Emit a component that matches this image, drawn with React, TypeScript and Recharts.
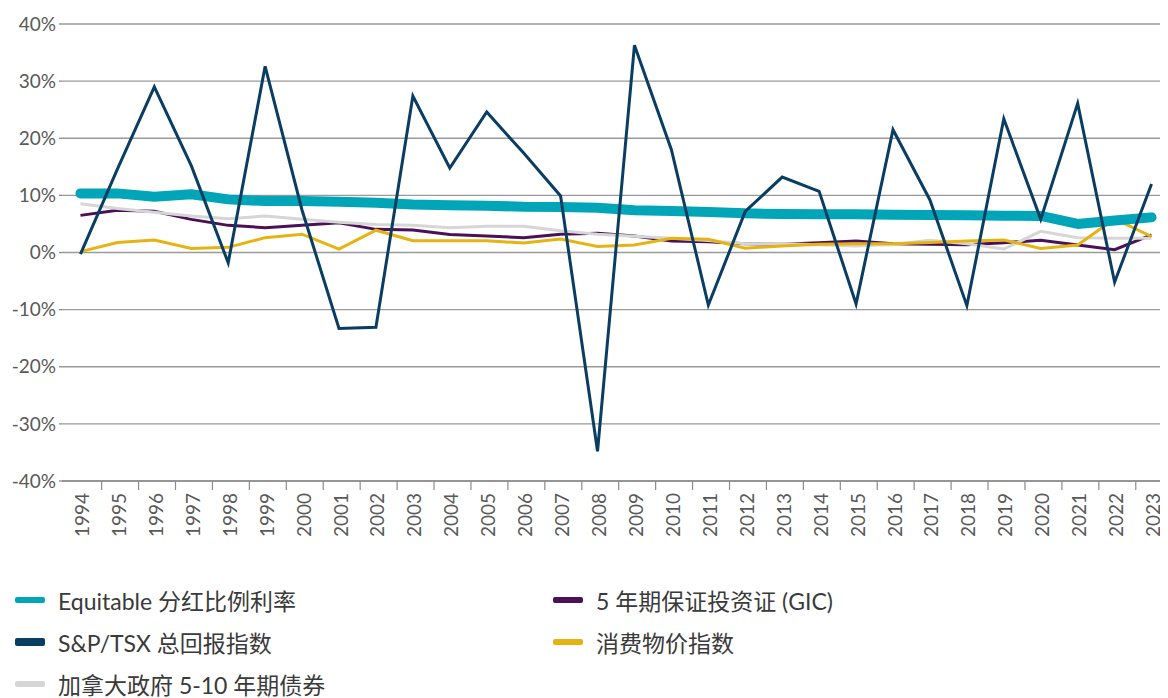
import { LineChart, Line, XAxis, YAxis, CartesianGrid } from 'recharts';

const years = [
  '1994', '1995', '1996', '1997', '1998', '1999', '2000', '2001', '2002', '2003',
  '2004', '2005', '2006', '2007', '2008', '2009', '2010', '2011', '2012', '2013',
  '2014', '2015', '2016', '2017', '2018', '2019', '2020', '2021', '2022', '2023',
];

const equitable = [
  10.35, 10.35, 9.75, 10.2, 9.3, 9.0, 9.0, 8.9, 8.7, 8.4,
  8.25, 8.2, 8.0, 7.95, 7.85, 7.4, 7.25, 7.1, 6.85, 6.75,
  6.7, 6.7, 6.6, 6.55, 6.5, 6.45, 6.4, 5.0, 5.6, 6.15,
];

const tsx = [
  -0.3, 14.6, 29.0, 15.2, -1.8, 32.6, 7.4, -13.3, -13.1, 27.4,
  14.8, 24.6, 17.4, 9.9, -34.8, 36.3, 18.0, -9.2, 7.2, 13.2,
  10.7, -9.0, 21.5, 9.2, -9.3, 23.4, 5.8, 26.1, -5.2, 12.0,
];

const gic = [
  6.5, 7.4, 7.2, 5.8, 4.75, 4.35, 4.75, 5.2, 4.05, 3.95,
  3.15, 2.9, 2.6, 3.2, 3.35, 2.9, 2.0, 1.9, 1.55, 1.45,
  1.7, 2.0, 1.55, 1.45, 1.35, 1.7, 2.15, 1.3, 0.5, 3.1,
];

const cpi = [
  0.15, 1.75, 2.2, 0.7, 0.9, 2.6, 3.2, 0.6, 3.9, 2.05,
  2.05, 2.05, 1.65, 2.35, 1.05, 1.3, 2.5, 2.3, 0.75, 1.15,
  1.45, 1.55, 1.55, 1.75, 2.0, 2.2, 0.7, 1.3, 5.9, 2.8,
];

const bonds = [
  8.55, 7.7, 7.05, 6.4, 5.9, 6.4, 5.8, 5.3, 4.9, 4.75,
  4.35, 4.6, 4.6, 3.8, 3.2, 2.85, 2.5, 2.1, 1.55, 1.55,
  1.35, 1.15, 1.4, 2.15, 1.55, 0.6, 3.7, 2.6, 2.5, 2.5,
];

const yTicks = [-40, -30, -20, -10, 0, 10, 20, 30, 40];

const data = years.map((year, i) => ({
  year,
  equitable: equitable[i],
  tsx: tsx[i],
  gic: gic[i],
  cpi: cpi[i],
  bonds: bonds[i],
}));

const FONT = "Lato, 'Noto Sans CJK SC', sans-serif";

const CHART_W = 1175;
const CHART_H = 690;
const MARGIN = { top: 16, right: 13, left: 0, bottom: 147 };
const Y_W = 54;
const BAND = (CHART_W - MARGIN.left - MARGIN.right - Y_W) / years.length;
const TICK_SHIFT = 2.7; // the year ticks sit a little right of the band edges

// legend entries, laid out in two columns
const legendItems = [
  { label: 'Equitable 分红比例利率', color: '#00A6B8', h: 6, col: 0, row: 0 },
  { label: '5 年期保证投资证 (GIC)', color: '#4A1158', h: 6, col: 1, row: 0 },
  { label: 'S&P/TSX 总回报指数', color: '#0A3D62', h: 8, col: 0, row: 1 },
  { label: '消费物价指数', color: '#E6B412', h: 6, col: 1, row: 1 },
  { label: '加拿大政府 5-10 年期债券', color: '#D6D6D6', h: 6, col: 0, row: 2 },
];

const YearTick = (props: any) => {
  const { x, y, payload, index } = props;
  const tx = x + 1;
  const lx = x - BAND / 2 + TICK_SHIFT;
  return (
    <g>
      {index > 0 && <line x1={lx} x2={lx} y1={y - 8} y2={y + 1} stroke="#8c8c8c" strokeWidth={1.2} />}
      <text
        x={tx}
        y={y + 4}
        transform={`rotate(-90, ${tx}, ${y + 4})`}
        textAnchor="end"
        dominantBaseline="central"
        fill="#595959"
        fontSize={19}
        fontFamily={FONT}
      >
        {payload.value}
      </text>
    </g>
  );
};

export default function App() {
  return (
    <div style={{ position: 'relative', width: 1160, height: CHART_H, overflow: 'hidden', fontFamily: FONT }}>
      <LineChart width={CHART_W} height={CHART_H} data={data} margin={MARGIN}>
        <CartesianGrid vertical={false} stroke="#9a9a9a" strokeWidth={1.3} />
        <XAxis
          dataKey="year"
          scale="band"
          interval={0}
          height={70}
          axisLine={{ stroke: '#8c8c8c', strokeWidth: 1.3 }}
          tickLine={false}
          tick={<YearTick />}
        />
        <YAxis
          width={Y_W}
          domain={[-40, 40]}
          ticks={yTicks}
          tickFormatter={(v: number) => `${v}%`}
          axisLine={false}
          tickLine={{ stroke: '#8c8c8c', strokeWidth: 1.3 }}
          tickSize={3}
          tickMargin={3}
          tick={{ fill: '#595959', fontSize: 19, fontFamily: FONT }}
        />
        <Line dataKey="gic" stroke="#4A1158" strokeWidth={3} dot={false} activeDot={false} isAnimationActive={false} />
        <Line dataKey="bonds" stroke="#D6D6D6" strokeWidth={3} dot={false} activeDot={false} isAnimationActive={false} />
        <Line dataKey="cpi" stroke="#E6B412" strokeWidth={3} dot={false} activeDot={false} isAnimationActive={false} />
        <Line
          dataKey="equitable"
          stroke="#00A6B8"
          strokeWidth={10}
          strokeLinecap="round"
          strokeLinejoin="round"
          dot={false}
          activeDot={false}
          isAnimationActive={false}
        />
        <Line dataKey="tsx" stroke="#0A3D62" strokeWidth={3} dot={false} activeDot={false} isAnimationActive={false} />
      </LineChart>

      {legendItems.map((item) => (
        <div
          key={item.label}
          style={{
            position: 'absolute',
            left: item.col === 0 ? 7 : 545,
            top: 592 + item.row * 42 - 15,
            height: 30,
            display: 'flex',
            alignItems: 'center',
            whiteSpace: 'nowrap',
          }}
        >
          <span
            style={{
              display: 'inline-block',
              width: 30,
              height: item.h,
              borderRadius: 2,
              background: item.color,
              marginRight: 13,
            }}
          />
          <span style={{ fontSize: 23, color: '#3a3a3a' }}>{item.label}</span>
        </div>
      ))}
    </div>
  );
}
